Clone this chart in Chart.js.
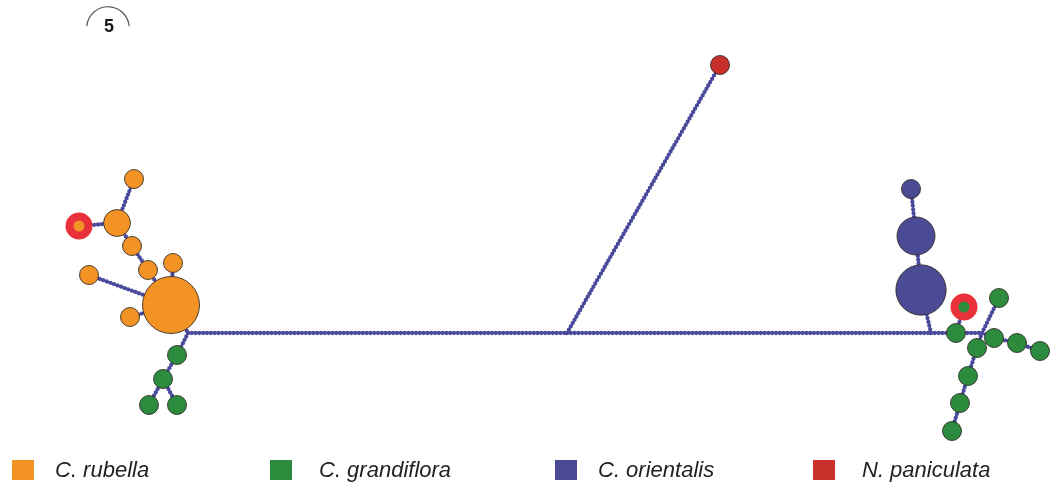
<!DOCTYPE html>
<html>
<head>
<meta charset="utf-8">
<script src="https://cdn.jsdelivr.net/npm/chart.js@4.4.1/dist/chart.umd.min.js"></script>
<style>
  html, body { margin: 0; padding: 0; background: #ffffff; }
  #wrap { width: 1050px; height: 488px; position: relative; }
</style>
</head>
<body>
<div id="wrap"><canvas id="net" width="1050" height="488"></canvas></div>
<script>
// Species (legend entries) and their colours
const speciesNames  = ['C. rubella', 'C. grandiflora', 'C. orientalis', 'N. paniculata'];
const speciesColors = ['#f39325', '#2d8b3d', '#4b4a95', '#c9302c'];

// Haplotype nodes: layout position, sample count, species (-1 = median vector), marked with a ring
const nodeX       = [171, 173, 148, 132, 117, 134,  79,  89, 130, 188, 177, 163, 149, 177, 567, 720, 931, 921, 916, 911, 956, 964, 982, 999, 977, 994, 1017, 1040, 968, 960, 952];
const nodeY       = [305, 263, 270, 246, 223, 179, 226, 275, 317, 333, 355, 379, 405, 405, 333,  65, 333, 290, 236, 189, 333, 307, 333, 298, 348, 338,  343,  351, 376, 403, 431];
const nodeCount   = [  9,   1,   1,   1,   2,   1,   1,   1,   1,   0,   1,   1,   1,   1,   0,   1,   0,   7,   4,   1,   1,   1,   0,   1,   1,   1,    1,    1,   1,   1,   1];
const nodeSpecies = [  0,   0,   0,   0,   0,   0,   0,   0,   0,  -1,   1,   1,   1,   1,  -1,   3,  -1,   2,   2,   2,   1,   1,  -1,   1,   1,   1,    1,    1,   1,   1,   1];
const nodeMarked  = [  0,   0,   0,   0,   0,   0,   1,   0,   0,   0,   0,   0,   0,   0,   0,   0,   0,   0,   0,   0,   0,   1,   0,   0,   0,   0,    0,    0,   0,   0,   0];

// Network links (pairs of node indices)
const edgeFrom = [0, 0, 2, 3, 4, 4, 0, 0, 0, 9, 10, 11, 11,  9, 14, 14, 16, 17, 18, 16, 20, 20, 22, 22, 22, 25, 26, 24, 28, 29];
const edgeTo   = [1, 2, 3, 4, 5, 6, 7, 8, 9, 10, 11, 12, 13, 14, 15, 16, 17, 18, 19, 20, 21, 22, 23, 24, 25, 26, 27, 28, 29, 30];

// Size key: circle area for this many samples
const scaleKeyCount = 5;

const EDGE_COLOR = '#4a4a9c';
const RING_COLOR = '#e8313a';

function radiusFor(n) {
  return n > 0 ? 9.5 * Math.sqrt(n) : 0;
}

const nodePoints = nodeX.map((x, i) => ({ x: x, y: nodeY[i] }));

const datasets = [];

// links: a thin line plus a row of beads (mutation steps)
edgeFrom.forEach((a, k) => {
  const b = edgeTo[k];
  const pts = [{ x: nodeX[a], y: nodeY[a] }, { x: nodeX[b], y: nodeY[b] }];
  datasets.push({
    type: 'scatter', data: pts, showLine: true, order: 3,
    borderColor: EDGE_COLOR, borderWidth: 2, pointRadius: 0
  });
  datasets.push({
    type: 'scatter', data: pts, showLine: true, order: 2,
    borderColor: EDGE_COLOR, borderWidth: 4.3, borderDash: [0, 3.8],
    borderCapStyle: 'round', pointRadius: 0
  });
});

// haplotype circles
datasets.push({
  type: 'scatter',
  data: nodePoints,
  order: 1,
  pointRadius: ctx => radiusFor(nodeCount[ctx.dataIndex]),
  pointHoverRadius: ctx => radiusFor(nodeCount[ctx.dataIndex]),
  pointBackgroundColor: ctx => {
    const s = nodeSpecies[ctx.dataIndex];
    return s >= 0 ? speciesColors[s] : 'rgba(0,0,0,0)';
  },
  pointBorderColor: ctx => nodeMarked[ctx.dataIndex] ? RING_COLOR : 'rgba(45,40,35,0.85)',
  pointBorderWidth: ctx => nodeMarked[ctx.dataIndex] ? 8 : 1
});

// size key (half circle with count) and species legend along the bottom
const keyAndLegend = {
  id: 'keyAndLegend',
  afterDraw(chart) {
    const c = chart.ctx;
    const xs = chart.scales.x, ys = chart.scales.y;
    c.save();

    const cx = xs.getPixelForValue(108), cy = ys.getPixelForValue(28);
    const r = radiusFor(scaleKeyCount);
    c.beginPath();
    c.arc(cx, cy, r, Math.PI + 0.08, 2 * Math.PI - 0.08);
    c.strokeStyle = '#555555';
    c.lineWidth = 1.2;
    c.stroke();
    c.fillStyle = '#1a1a1a';
    c.font = 'bold 18px "Liberation Sans", Arial, sans-serif';
    c.textAlign = 'center';
    c.textBaseline = 'alphabetic';
    c.fillText(String(scaleKeyCount), cx + 1, cy + 4);

    const boxX = [12, 270, 555, 813];
    const textX = [55, 319, 598, 862];
    c.textAlign = 'left';
    c.font = 'italic 22px "Liberation Sans", Arial, sans-serif';
    speciesNames.forEach((name, i) => {
      c.fillStyle = speciesColors[i];
      c.fillRect(boxX[i], 460, 22, 20);
      c.fillStyle = '#222222';
      c.fillText(name, textX[i], 477);
    });
    c.restore();
  }
};

new Chart(document.getElementById('net'), {
  type: 'scatter',
  data: { datasets: datasets },
  plugins: [keyAndLegend],
  options: {
    responsive: false,
    animation: false,
    events: [],
    layout: { padding: 0, autoPadding: false },
    scales: {
      x: { type: 'linear', min: 0, max: 1050, display: false },
      y: { type: 'linear', min: 0, max: 488, reverse: true, display: false }
    },
    plugins: {
      legend: { display: false },
      tooltip: { enabled: false }
    }
  }
});
</script>
</body>
</html>
